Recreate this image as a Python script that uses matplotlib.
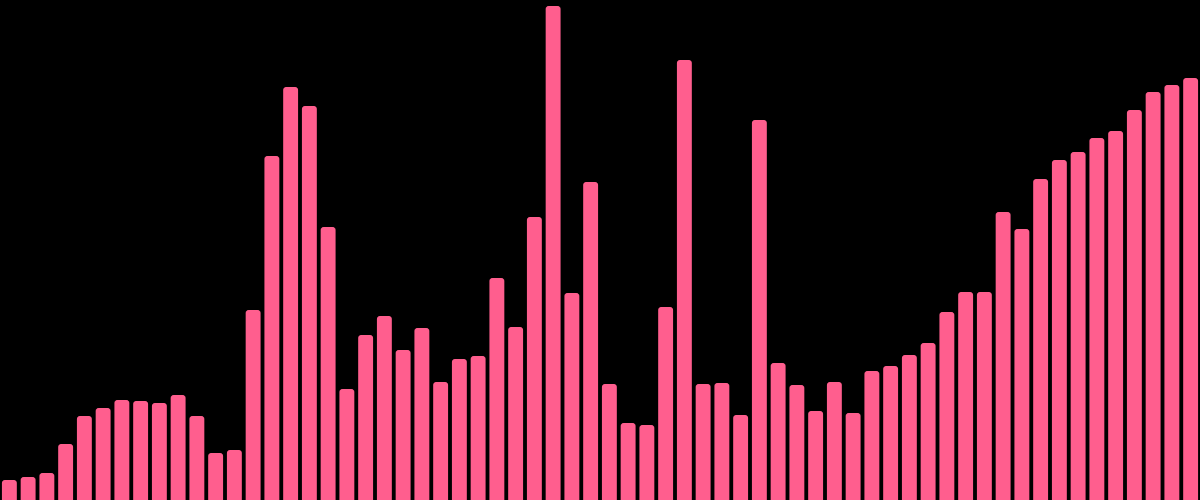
import matplotlib
matplotlib.use("Agg")
import matplotlib.pyplot as plt
from matplotlib.patches import FancyBboxPatch

values = [20, 23, 27, 56, 84, 92, 100, 99, 97, 105, 84, 47, 50, 190, 344, 413,
          394, 273, 111, 165, 184, 150, 172, 118, 141, 144, 222, 173, 283, 494,
          207, 318, 116, 77, 75, 193, 440, 116, 117, 85, 380, 137, 115, 89, 118,
          87, 129, 134, 145, 157, 188, 208, 208, 288, 271, 321, 340, 348, 362,
          369, 390, 408, 415, 422]
categories = list(range(len(values)))

color = "#ff5e8e"

fig = plt.figure(figsize=(12, 5), dpi=100, facecolor="black")
ax = fig.add_axes([0, 0, 1, 1])
ax.set_facecolor("black")

bars = ax.bar(categories, values, width=0.795, color=color)
px_x = 1200 / len(values)
for rect in bars:
    x, y = rect.get_x(), rect.get_y()
    w, h = rect.get_width(), rect.get_height()
    rect.remove()
    p = FancyBboxPatch((x, y - 10), w, h + 10,
                       boxstyle="round,pad=0,rounding_size=%f" % (3 / px_x),
                       mutation_aspect=px_x, facecolor=color, edgecolor="none")
    ax.add_patch(p)

ax.set_xlim(-0.5, len(values) - 0.5)
ax.set_ylim(0, 500)
ax.axis("off")
fig.savefig("out.png", dpi=100, facecolor="black")
